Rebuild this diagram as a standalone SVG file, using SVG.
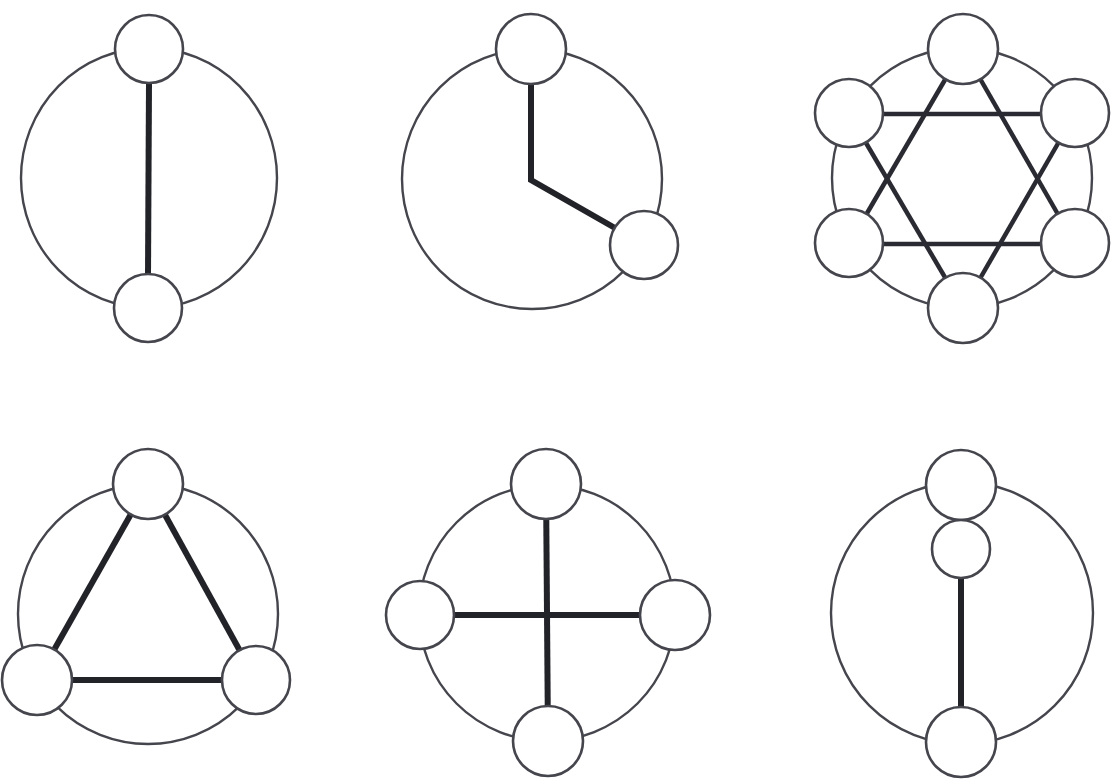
<svg xmlns="http://www.w3.org/2000/svg" width="1113" height="783" viewBox="0 0 1113 783">
<style>
.ring{fill:none;stroke:#45454d;stroke-width:2.4}
.node{fill:#fff;stroke:#45454d;stroke-width:2.6}
.link{fill:none;stroke:#222229;stroke-width:6;stroke-linejoin:miter}
.link2{fill:none;stroke:#2a2a32;stroke-width:4.5}
</style>
<rect width="1113" height="783" fill="#fff"/>

<!-- Diagram 1 -->
<g id="d1">
  <ellipse class="ring" cx="149" cy="178" rx="128" ry="130"/>
  <g id="d1-connectors"><line class="link" x1="149" y1="83" x2="148" y2="276"/></g>
  <g id="d1-n1"><circle class="node" cx="149" cy="49" r="34"/></g>
  <g id="d1-n2"><circle class="node" cx="148" cy="308" r="34"/></g>
</g>

<!-- Diagram 2 -->
<g id="d2">
  <circle class="ring" cx="532" cy="179" r="130"/>
  <g id="d2-connectors"><polyline class="link" points="531,83 531,180 615,228"/></g>
  <g id="d2-n1"><circle class="node" cx="531" cy="49" r="35"/></g>
  <g id="d2-n2"><circle class="node" cx="644" cy="245" r="34"/></g>
</g>

<!-- Diagram 3 -->
<g id="d3">
  <circle class="ring" cx="962" cy="178" r="130"/>
  <g id="d3-connectors">
    <line class="link2" x1="963" y1="49" x2="849" y2="244"/>
    <line class="link2" x1="963" y1="49" x2="1075" y2="244"/>
    <line class="link2" x1="849" y1="244" x2="1075" y2="244"/>
    <line class="link2" x1="963" y1="308" x2="849" y2="114"/>
    <line class="link2" x1="963" y1="308" x2="1075" y2="114"/>
    <line class="link2" x1="849" y1="114" x2="1075" y2="114"/>
  </g>
  <g id="d3-n1"><circle class="node" cx="963" cy="49" r="35"/></g>
  <g id="d3-n2"><circle class="node" cx="849" cy="113" r="34"/></g>
  <g id="d3-n3"><circle class="node" cx="1075" cy="113" r="34"/></g>
  <g id="d3-n4"><circle class="node" cx="849" cy="243" r="34"/></g>
  <g id="d3-n5"><circle class="node" cx="1075" cy="243" r="34"/></g>
  <g id="d3-n6"><circle class="node" cx="963" cy="308" r="35"/></g>
</g>

<!-- Diagram 4 -->
<g id="d4">
  <circle class="ring" cx="148" cy="614" r="130"/>
  <g id="d4-connectors">
    <line class="link" x1="148" y1="484" x2="37" y2="680"/>
    <line class="link" x1="148" y1="484" x2="256" y2="680"/>
    <line class="link" x1="37" y1="680" x2="256" y2="680"/>
  </g>
  <g id="d4-n1"><circle class="node" cx="148" cy="484" r="35"/></g>
  <g id="d4-n2"><circle class="node" cx="37" cy="680" r="35"/></g>
  <g id="d4-n3"><circle class="node" cx="256" cy="680" r="34"/></g>
</g>

<!-- Diagram 5 -->
<g id="d5">
  <circle class="ring" cx="547" cy="613" r="128"/>
  <g id="d5-connectors">
    <line class="link" x1="546" y1="484" x2="548" y2="741"/>
    <line class="link" x1="420" y1="615" x2="675" y2="615"/>
  </g>
  <g id="d5-n1"><circle class="node" cx="546" cy="484" r="35"/></g>
  <g id="d5-n2"><circle class="node" cx="420" cy="615" r="34"/></g>
  <g id="d5-n3"><circle class="node" cx="675" cy="615" r="35"/></g>
  <g id="d5-n4"><circle class="node" cx="548" cy="741" r="35"/></g>
</g>

<!-- Diagram 6 -->
<g id="d6">
  <circle class="ring" cx="962" cy="613" r="131"/>
  <g id="d6-connectors"><line class="link" x1="961" y1="578" x2="961" y2="742"/></g>
  <g id="d6-n1"><circle class="node" cx="961" cy="485" r="35"/></g>
  <g id="d6-n2"><circle class="node" cx="961" cy="549" r="29"/></g>
  <g id="d6-n3"><circle class="node" cx="961" cy="742" r="35"/></g>
</g>
</svg>
